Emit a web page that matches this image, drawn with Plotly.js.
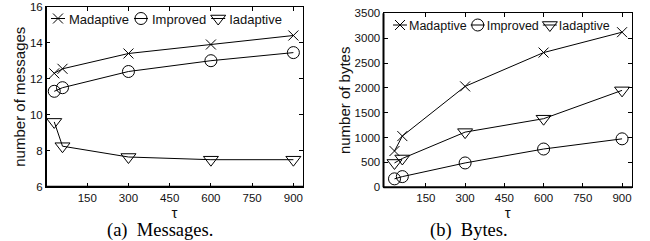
<!DOCTYPE html>
<html><head><meta charset="utf-8">
<script src="https://cdn.plot.ly/plotly-3.0.1.min.js"></script>
<style>html,body{margin:0;padding:0;background:#fff}#chart{width:650px;height:241px}</style>
</head><body><div id="chart"></div>
<script>
const tau = [30, 60, 300, 600, 900];
const tickVals = [150, 300, 450, 600, 750, 900];
const seriesNames = ['Madaptive', 'Improved', 'Iadaptive'];
const msgMadaptive = [12.3, 12.55, 13.4, 13.9, 14.4];
const msgImproved = [11.3, 11.5, 12.4, 13.0, 13.45];
const msgIadaptive = [9.6, 8.25, 7.65, 7.5, 7.5];
const bytesMadaptive = [730, 1030, 2030, 2710, 3120];
const bytesImproved = [170, 215, 490, 770, 975];
const bytesIadaptive = [490, 580, 1110, 1380, 1950];
const captions = ['(a)  Messages.', '(b)  Bytes.'];

const symbols = ['x-thin-open', 'circle-open', 'triangle-down-open'];
const sizes = [10, 12, 13];
const SANS = 'Liberation Sans, Arial, sans-serif';

function mk(y, i, xa, ya, leg) {
  return {
    x: tau, y: y, name: seriesNames[i], type: 'scatter', mode: 'lines+markers',
    xaxis: xa, yaxis: ya, legend: leg,
    line: {color: '#000', width: 1},
    marker: {symbol: symbols[i], size: sizes[i], color: '#000', line: {color: '#000', width: 1}}
  };
}
const data = [
  mk(msgMadaptive, 0, 'x', 'y', 'legend'),
  mk(msgImproved, 1, 'x', 'y', 'legend'),
  mk(msgIadaptive, 2, 'x', 'y', 'legend'),
  mk(bytesMadaptive, 0, 'x2', 'y2', 'legend2'),
  mk(bytesImproved, 1, 'x2', 'y2', 'legend2'),
  mk(bytesIadaptive, 2, 'x2', 'y2', 'legend2')
];

const W = 650, H = 241;
function xax(d0, d1, r, anchor) {
  return {
    domain: [d0 / W, d1 / W], range: r, anchor: anchor,
    tickmode: 'array', tickvals: tickVals, ticks: 'inside', ticklen: 4, tickcolor: '#000',
    showline: true, linecolor: '#000', linewidth: 1, mirror: 'ticks',
    showgrid: false, zeroline: false,
    tickfont: {family: SANS, size: 11.5, color: '#111'},
    title: {text: 'τ', font: {family: SANS, size: 15, color: '#111'}, standoff: 0}
  };
}
function yax(top, bot, r, dt, anchor, title) {
  return {
    domain: [1 - bot / H, 1 - top / H], range: r, dtick: dt, anchor: anchor,
    ticks: 'inside', ticklen: 4, tickcolor: '#000',
    showline: true, linecolor: '#000', linewidth: 1, mirror: 'ticks',
    showgrid: false, zeroline: false,
    tickfont: {family: SANS, size: 11.5, color: '#111'},
    title: {text: title, font: {family: SANS, size: 15, color: '#111'}, standoff: 0}
  };
}
const layout = {
  width: W, height: H, margin: {l: 0, r: 0, t: 0, b: 0},
  paper_bgcolor: '#fff', plot_bgcolor: '#fff',
  showlegend: true,
  xaxis: xax(46, 303, [0, 935], 'y'),
  yaxis: yax(6.7, 186.7, [6, 16], 2, 'x', 'number of messages'),
  xaxis2: xax(383.5, 632, [-12, 938], 'y2'),
  yaxis2: yax(13.3, 187.3, [0, 3500], 500, 'x2', 'number of bytes'),
  legend: {orientation: 'h', x: 0, y: 1, xanchor: 'left', yanchor: 'top',
    bgcolor: 'rgba(0,0,0,0)', borderwidth: 0, font: {family: SANS, size: 13, color: '#111'}},
  legend2: {orientation: 'h', x: 0, y: 1, xanchor: 'left', yanchor: 'top',
    bgcolor: 'rgba(0,0,0,0)', borderwidth: 0, font: {family: SANS, size: 12.5, color: '#111'}},
  shapes: [
    {type: 'line', xref: 'x domain', yref: 'y domain', x0: 0, x1: 0, y0: 0, y1: 1, line: {color: '#000', width: 2}},
    {type: 'line', xref: 'x domain', yref: 'y domain', x0: 0, x1: 1, y0: 0, y1: 0, line: {color: '#000', width: 2}},
    {type: 'line', xref: 'x2 domain', yref: 'y2 domain', x0: 0, x1: 0, y0: 0, y1: 1, line: {color: '#000', width: 2}},
    {type: 'line', xref: 'x2 domain', yref: 'y2 domain', x0: 0, x1: 1, y0: 0, y1: 0, line: {color: '#000', width: 2}}
  ],
  annotations: [
    {text: captions[0], xref: 'paper', yref: 'paper', x: 160 / W, y: 1 - 230 / H, xanchor: 'center', yanchor: 'middle',
      showarrow: false, font: {family: 'Liberation Serif, Times New Roman, serif', size: 18.5, color: '#000'}},
    {text: captions[1], xref: 'paper', yref: 'paper', x: 469 / W, y: 1 - 230 / H, xanchor: 'center', yanchor: 'middle',
      showarrow: false, font: {family: 'Liberation Serif, Times New Roman, serif', size: 18.5, color: '#000'}}
  ]
};

function parseXY(t) {
  const m = /translate\(\s*([-\d.e]+)[ ,]+([-\d.e]+)/.exec(t || '');
  return m ? [parseFloat(m[1]), parseFloat(m[2])] : [0, 0];
}
function fixLegend(gd, cls, startX, centerY, textX, gap) {
  const legs = gd.querySelectorAll('g.infolayer > g');
  let leg = null;
  legs.forEach(function (g) { if (g.getAttribute('class') === cls) leg = g; });
  if (!leg) return;
  const traces = leg.querySelectorAll('g.traces');
  let cursor = 0, y0 = null;
  traces.forEach(function (tr) {
    const ty = parseXY(tr.getAttribute('transform'))[1];
    if (y0 === null) y0 = ty;
    tr.querySelectorAll('path.js-line').forEach(function (p) { p.setAttribute('d', 'M2,0h14'); });
    tr.querySelectorAll('g.legendpoints path').forEach(function (p) { p.setAttribute('transform', 'translate(9,0)'); });
    const txt = tr.querySelector('text.' + cls + 'text') || tr.querySelector('text');
    let w = 50;
    if (txt) {
      txt.setAttribute('x', textX);
      txt.querySelectorAll('tspan').forEach(function (s) { if (s.hasAttribute('x')) s.setAttribute('x', textX); });
      w = txt.getBBox().width;
    }
    tr.setAttribute('transform', 'translate(' + cursor + ',' + y0 + ')');
    cursor += textX + w + gap;
  });
  leg.setAttribute('transform', 'translate(' + startX + ',' + (centerY - y0) + ')');
  leg.querySelectorAll('clipPath rect').forEach(function (r) { r.setAttribute('width', 400); });
}

const gd = document.getElementById('chart');
function fixAll() {
  fixLegend(gd, 'legend', 49, 18.5, 20, 3);
  fixLegend(gd, 'legend2', 391, 25, 18, 2);
}
Plotly.newPlot(gd, data, layout, {staticPlot: true, displayModeBar: false}).then(function () {
  fixAll();
  setTimeout(fixAll, 50);
  setTimeout(fixAll, 300);
});
</script></body></html>
